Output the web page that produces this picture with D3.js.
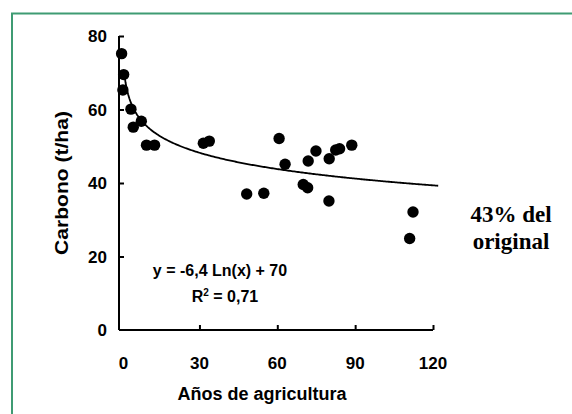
<!DOCTYPE html>
<html><head><meta charset="utf-8">
<script src="https://cdn.jsdelivr.net/npm/d3@7"></script>
<style>html,body{margin:0;padding:0;background:#fff;}svg{display:block;}</style>
</head><body>
<svg id="chart" width="572" height="414"></svg>
<script>
const years  = [0.0, 0.8, 0.5, 3.6, 4.5, 7.6, 9.6, 12.7, 31.5, 33.8, 60.7, 63.0, 48.2, 54.8, 70.0, 71.7, 71.9, 74.9, 80.0, 79.9, 82.5, 84.0, 88.7, 112.3, 111.0];
const carbon = [75.2, 69.5, 65.3, 60.1, 55.2, 56.8, 50.3, 50.3, 50.8, 51.4, 52.1, 45.1, 37.0, 37.2, 39.6, 38.7, 46.0, 48.7, 46.6, 35.1, 49.0, 49.3, 50.3, 32.1, 24.9];
const xTicks = [0, 30, 60, 90, 120];
const yTicks = [0, 20, 40, 60, 80];
const fitA = -6.4, fitB = 70;
const fitX = d3.range(1, 122.5, 0.5);

const svg = d3.select("#chart");
svg.append("rect").attr("x", 12).attr("y", 13.5).attr("width", 600).attr("height", 450)
  .attr("fill", "none").attr("stroke", "#3f9b73").attr("stroke-width", 2);

const x = d3.scaleLinear().domain([-1, 120]).range([119, 433]);
const y = d3.scaleLinear().domain([0, 80]).range([330, 36]);

const font = "Arial, 'Liberation Sans', sans-serif";

// axes lines
const xAxis = d3.axisBottom(x).tickValues(xTicks.filter(d => d > 0)).tickSize(-5).tickFormat("");
svg.append("g").attr("transform", `translate(0,${y(0)})`).call(xAxis)
  .call(g => g.select(".domain").attr("d", `M${x(-1)},0H${x(120)}`).attr("stroke-width", 2))
  .call(g => g.selectAll(".tick line").attr("stroke-width", 2));
const yAxis = d3.axisLeft(y).tickValues(yTicks.filter(d => d > 0)).tickSize(-5).tickFormat("");
svg.append("g").attr("transform", `translate(${x(-1)},0)`).call(yAxis)
  .call(g => g.select(".domain").attr("d", `M0,${y(0)}V${y(80)}`).attr("stroke-width", 2))
  .call(g => g.selectAll(".tick line").attr("stroke-width", 2));

// tick labels
svg.append("g").selectAll("text").data(xTicks).join("text")
  .attr("x", d => x(d) + (d === 0 ? 2 : 0)).attr("y", 369)
  .attr("text-anchor", "middle").attr("font-family", font).attr("font-weight", "bold")
  .attr("font-size", 17).text(d => d);
svg.append("g").selectAll("text").data(yTicks).join("text")
  .attr("x", 107).attr("y", d => y(d) + 6)
  .attr("text-anchor", "end").attr("font-family", font).attr("font-weight", "bold")
  .attr("font-size", 17).text(d => d);

// axis titles
svg.append("text").attr("x", 262).attr("y", 400).attr("text-anchor", "middle")
  .attr("font-family", font).attr("font-weight", "bold").attr("font-size", 18)
  .text("Años de agricultura");
svg.append("text").attr("transform", "translate(68,183) rotate(-90) scale(1.17,1.05)").attr("text-anchor", "middle")
  .attr("font-family", font).attr("font-weight", "bold").attr("font-size", 18)
  .text("Carbono (t/ha)");

// fit curve
const line = d3.line().x(d => x(d)).y(d => y(fitA * Math.log(d) + fitB));
svg.append("path").datum(fitX).attr("d", line).attr("fill", "none")
  .attr("stroke", "#000").attr("stroke-width", 1.8);

// points
svg.append("g").selectAll("circle").data(years).join("circle")
  .attr("cx", d => x(d)).attr("cy", (d, i) => y(carbon[i])).attr("r", 5.7).attr("fill", "#000");

// equation
svg.append("text").attr("x", 220).attr("y", 276).attr("text-anchor", "middle")
  .attr("font-family", font).attr("font-weight", "bold").attr("font-size", 16)
  .text("y = -6,4 Ln(x) + 70");
const r2 = svg.append("text").attr("x", 225).attr("y", 302).attr("text-anchor", "middle")
  .attr("font-family", font).attr("font-weight", "bold").attr("font-size", 16);
r2.append("tspan").text("R");
r2.append("tspan").attr("dy", -6).attr("font-size", 10).text("2");
r2.append("tspan").attr("dy", 6).text(" = 0,71");

// annotation
const serif = "'Times New Roman', 'Liberation Serif', serif";
svg.append("text").attr("x", 511).attr("y", 222).attr("text-anchor", "middle")
  .attr("font-family", serif).attr("font-weight", "bold").attr("font-size", 23).text("43% del");
svg.append("text").attr("x", 511).attr("y", 249).attr("text-anchor", "middle")
  .attr("font-family", serif).attr("font-weight", "bold").attr("font-size", 23).text("original");
</script>
</body></html>
